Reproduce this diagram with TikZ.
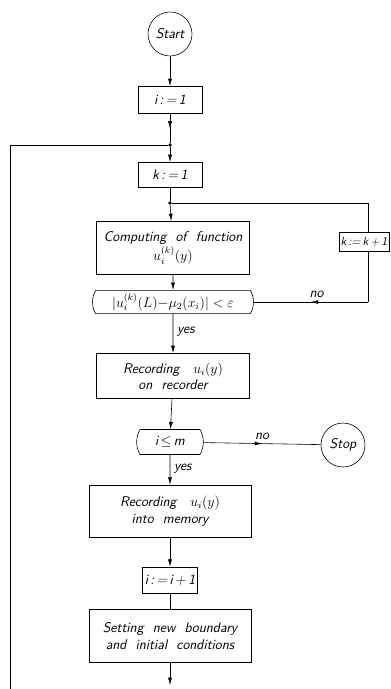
\documentclass[tikz,border=0pt]{standalone}
\usetikzlibrary{arrows.meta,shapes.misc,decorations.markings}

\begin{document}
\begin{tikzpicture}[x=0.03cm,y=-0.03cm,font=\sffamily\itshape\large,line width=.5pt,
    block/.style={draw,rectangle,align=center,inner sep=2pt},
    terminal/.style={draw,circle,minimum size=1.32cm,inner sep=0pt},
    decision/.style={draw,rounded rectangle,rounded rectangle arc length=60,minimum height=.7cm,inner sep=1pt},
    flow/.style={-{Latex[length=2.2mm,width=1.2mm]}},
    midarrow/.style={postaction={decorate},decoration={markings,mark=at position .5 with {\arrow{Latex[length=2.2mm,width=1.2mm]}}}},
    junction/.style={circle,fill,inner sep=0pt,minimum size=3pt}]
      \useasboundingbox (0,0) rectangle (391,689);
      \node[terminal] (start) at (170,34) {Start};
      \node[block,minimum width=1.92cm,minimum height=.82cm] (i init) at (170,100) {i\,:\,=\,1};
      \node[junction] (join 1) at (170,145) {};
      \node[block,minimum width=1.92cm,minimum height=.76cm] (k init) at (170,175) {k\,:\,=\,1};
      \node[junction] (join 2) at (170,203) {};
      \node[block,minimum width=4.6cm,minimum height=1.6cm] (computing) at (173,248) {Computing\ \ of\ \ function\\[1pt] $u_i^{(k)}(y)$};
      \node[decision,minimum width=4.9cm] (test k) at (173,302) {$|u_i^{(k)}(L){-}\mu_2(x_i)|<\varepsilon$};
      \node[block,minimum width=1.5cm,minimum height=.57cm,inner sep=1pt,font=\sffamily\itshape\normalsize] (k next) at (364,242) {k\,:=\,k\,+\,1};
      \node[block,minimum width=4.6cm,minimum height=1.36cm] (recording 1) at (173,376) {Recording\ \ \ $u_i(y)$\\ on\ \ recorder};
      \node[decision,minimum width=2.07cm,minimum height=.75cm] (test i) at (170,442) {i\,$\le$\,m};
      \node[terminal] (stop) at (343,445) {Stop};
      \node[block,minimum width=4.86cm,minimum height=1.56cm] (recording 2) at (170,511) {Recording\ \ \ $u_i(y)$\\ into\ \ memory};
      \node[block,minimum width=1.65cm,minimum height=.78cm] (i next) at (170,580) {i\,:\,=\,i\,+\,1};
      \node[block,minimum width=4.86cm,minimum height=1.6cm] (setting) at (170,636) {Setting\ \ new\ \ boundary\\ and\ \ initial\ \ conditions};
      \coordinate (out) at (170,685);
      \coordinate (loop bottom) at (10,689);
      \coordinate (loop top) at (10,145);
      \coordinate (right top) at (368,203);
      \coordinate (right bottom) at (368,302);
      % main column
      \draw[flow] (start) -- (i init);
      \draw[midarrow] (i init) -- (join 1);
      \draw[flow] (join 1) -- (k init);
      \draw (k init) -- (join 2);
      \draw[flow] (join 2) -- (computing);
      \draw[flow] (computing) -- (test k);
      \draw[flow] (test k) -- node[right,pos=.45] {yes} (recording 1);
      \draw[flow] (recording 1) -- (test i);
      \draw[flow] (test i) -- node[right,pos=.45] {yes} (recording 2);
      \draw[flow] (recording 2) -- (i next);
      \draw (i next) -- (setting);
      \draw[flow] (setting) -- (out);
      % inner loop over k
      \draw (join 2) -- (right top) -- (k next.north -| right top);
      \draw (k next.south -| right bottom) -- (right bottom);
      \draw[midarrow] (right bottom) -- node[above,pos=.45] {no} (test k.east);
      % outer loop over i
      \draw (loop bottom) -- (loop top) -- (join 1);
      \draw[midarrow] (test i) -- node[above,pos=.5] {no} (stop);
    \end{tikzpicture}
\end{document}
